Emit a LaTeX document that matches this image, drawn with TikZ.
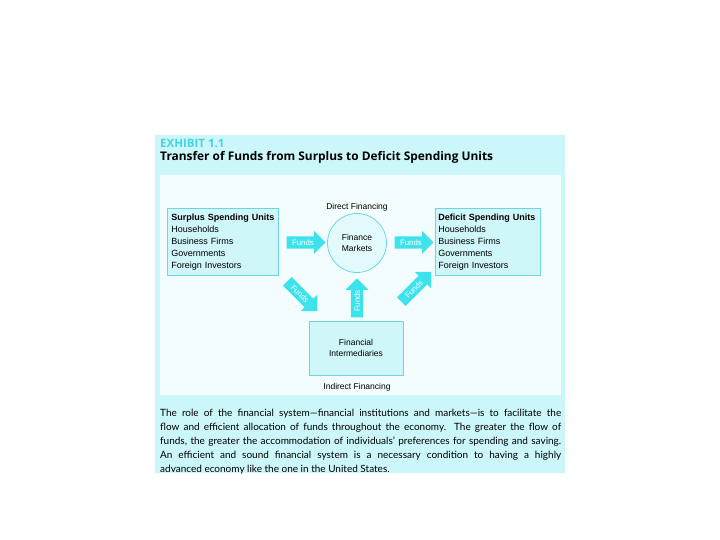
\documentclass[tikz,border=0pt]{standalone}
\usepackage{fontspec}
\setmainfont{Liberation Sans}
\newfontfamily\headfont[Ligatures=TeX]{Open Sans}
\newfontfamily\bodyfont[Ligatures=TeX]{Lato}
\usetikzlibrary{shapes.arrows,positioning,calc}
\definecolor{panelcyan}{HTML}{CCF7FA}
\definecolor{panelwhite}{HTML}{F4FDFD}
\definecolor{arrowcyan}{HTML}{3DE3EC}
\definecolor{boxline}{HTML}{6FD6E0}
\definecolor{boxfill}{HTML}{CFF6F9}
\definecolor{exhibitcyan}{HTML}{45D3E3}

\begin{document}
\begin{tikzpicture}[x=1pt,y=-1pt,
  unitbox/.style={draw=boxline,fill=boxfill,line width=0.8pt},
  listtext/.style={font=\fontsize{9}{12}\selectfont,align=left,inner ysep=0pt},
  fundsarrow/.style={single arrow,fill=arrowcyan,text=white,font=\fontsize{7.8}{8}\selectfont,
    minimum height=39pt,minimum width=23pt,single arrow head extend=4pt,inner sep=1.5pt},
  label/.style={font=\fontsize{8.5}{11}\selectfont}]
\useasboundingbox (0,0) rectangle (720,540);
% panels
\fill[panelcyan] (155,135) rectangle (565,473);
\fill[panelwhite] (160,175) rectangle (561,395);

% heading
\node[anchor=west,inner sep=0pt,text=exhibitcyan,font=\headfont\bfseries\fontsize{11.5}{12}\selectfont] (exhibit) at (160,143) {EXHIBIT 1.1};
\node[anchor=west,inner sep=0pt,font=\headfont\bfseries\fontsize{11.9}{13}\selectfont] (title) at (160,157) {Transfer of Funds from Surplus to Deficit Spending Units};

% direct financing
\node[label] (direct) at (357,207) {Direct Financing};
\node[unitbox,listtext,anchor=north west,text width=103pt,inner xsep=4pt,minimum height=67pt] (surplus) at (167,208)
  {\textbf{Surplus Spending Units}\\Households\\Business Firms\\Governments\\Foreign Investors};
\node[unitbox,listtext,anchor=north west,text width=99pt,inner xsep=3pt,minimum height=67pt] (deficit) at (435,208)
  {\textbf{Deficit Spending Units}\\Households\\Business Firms\\Governments\\Foreign Investors};
\node[circle,draw=boxline,fill=boxfill!60!white,line width=0.8pt,minimum size=59pt,label,align=center] (market) at (357,243)
  {Finance\\Markets};
\node[fundsarrow] (fundsA) at ($(surplus.east)!0.5!(market.west)$) {Funds};
\node[fundsarrow] (fundsB) at ($(market.east)!0.5!(deficit.west)$) {Funds};

% indirect financing
\node[unitbox,minimum width=94pt,minimum height=54pt,label,align=center] (inter) at (356,348)
  {Financial\\Intermediaries};
\node[fundsarrow,rotate=-45,minimum height=42pt] (fundsC) at (300,294) {Funds};
\node[fundsarrow,rotate=90] (fundsD) at (357,301) {Funds};
\node[fundsarrow,rotate=45,minimum height=42pt] (fundsE) at (414,289) {Funds};
\node[label] (indirect) at (357,387) {Indirect Financing};

% caption
\node[anchor=north west,inner sep=0pt,text width=401pt,align=justify,
  font=\bodyfont\fontsize{10}{14}\selectfont] (caption) at (160,409)
  {The role of the financial system—financial institutions and markets—is to facilitate the\linebreak
   flow and efficient allocation of funds throughout the economy. The greater the flow of\linebreak
   funds, the greater the accommodation of individuals’ preferences for spending and saving.\linebreak
   An efficient and sound financial system is a necessary condition to having a highly\linebreak
   advanced economy like the one in the United States.};
\end{tikzpicture}
\end{document}
